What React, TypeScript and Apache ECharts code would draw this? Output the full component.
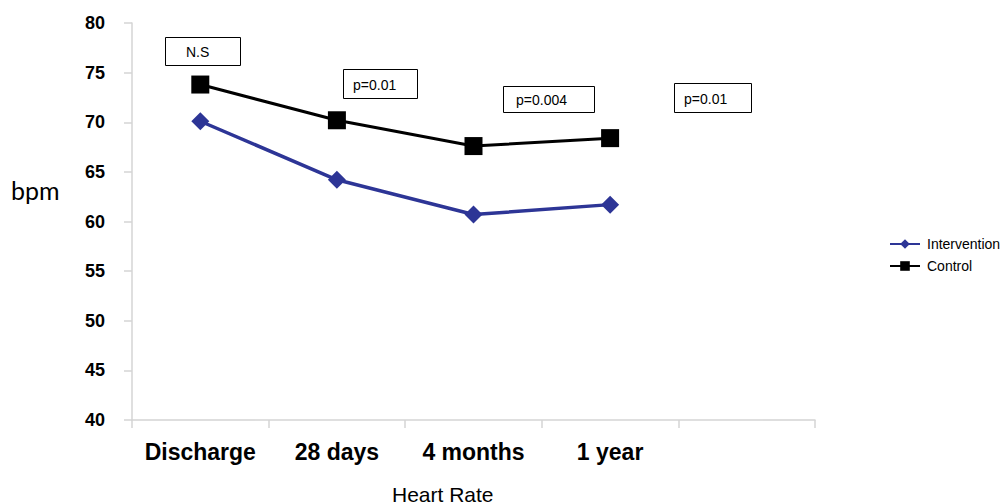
import React, { useEffect, useRef } from "react";
import * as echarts from "echarts";

const categories = ["Discharge", "28 days", "4 months", "1 year", ""];
const interventionValues = [70.1, 64.2, 60.7, 61.7];
const controlValues = [73.8, 70.2, 67.6, 68.4];
const yTicks = { min: 40, max: 80, interval: 5 };
const pLabels = ["N.S", "p=0.01", "p=0.004", "p=0.01"];

const FONT = "'Liberation Sans', Arial, Helvetica, sans-serif";

export default function App() {
  const ref = useRef<HTMLDivElement>(null);
  useEffect(() => {
    if (!ref.current) return;
    const chart = echarts.init(ref.current, undefined, { renderer: "svg" });
    const boxes = [
      { x: 165, y: 37, w: 75, h: 28, tx: 186 },
      { x: 343, y: 69, w: 74, h: 29, tx: 353 },
      { x: 503, y: 86, w: 91, h: 26, tx: 516 },
      { x: 674, y: 83, w: 77, h: 29, tx: 684 },
    ];
    const graphics: any[] = [];
    boxes.forEach((b, i) => {
      graphics.push({
        type: "rect",
        shape: { x: b.x + 0.5, y: b.y + 0.5, width: b.w, height: b.h },
        style: { fill: "#fff", stroke: "#000", lineWidth: 1 },
        z: 10,
      });
      graphics.push({
        type: "text",
        x: b.tx,
        y: b.y + b.h / 2 + 1,
        style: {
          text: pLabels[i],
          fill: "#000",
          font: `14px ${FONT}`,
          textVerticalAlign: "middle",
        },
        z: 11,
      });
    });
    graphics.push({
      type: "text",
      x: 11,
      y: 190,
      style: {
        text: "bpm",
        fill: "#000",
        font: "25px Lato, 'Noto Sans', sans-serif",
        textVerticalAlign: "middle",
      },
    });
    graphics.push({
      type: "text",
      x: 392,
      y: 494,
      style: {
        text: "Heart Rate",
        fill: "#000",
        font: `21px ${FONT}`,
        textVerticalAlign: "middle",
      },
    });

    chart.setOption({
      animation: false,
      backgroundColor: "#fff",
      grid: { left: 132, right: 188, top: 23, bottom: 84 },
      legend: {
        orient: "vertical",
        left: 884,
        top: 232,
        itemWidth: 30,
        itemHeight: 12,
        itemGap: 8,
        textStyle: { fontFamily: FONT, fontSize: 14, color: "#000", padding: [0, 0, 0, 2] },
        data: ["Intervention", "Control"],
      },
      xAxis: {
        type: "category",
        data: categories,
        boundaryGap: true,
        axisLine: { lineStyle: { color: "#d4d4d4", width: 1.5 } },
        axisTick: { show: true, length: 8, lineStyle: { color: "#d4d4d4", width: 1.5 } },
        axisLabel: {
          interval: 0,
          margin: 20,
          fontFamily: FONT,
          fontSize: 23,
          fontWeight: "bold",
          color: "#000",
        },
        splitLine: { show: false },
      },
      yAxis: {
        type: "value",
        min: yTicks.min,
        max: yTicks.max,
        interval: yTicks.interval,
        axisLine: { show: true, lineStyle: { color: "#d4d4d4", width: 1.5 } },
        axisTick: { show: true, length: 8, lineStyle: { color: "#d4d4d4", width: 1.5 } },
        axisLabel: {
          margin: 27,
          fontFamily: FONT,
          fontSize: 18,
          fontWeight: "bold",
          color: "#000",
        },
        splitLine: { show: false },
      },
      series: [
        {
          name: "Intervention",
          type: "line",
          data: interventionValues,
          symbol: "diamond",
          symbolSize: 18,
          color: "#2d3596",
          lineStyle: { color: "#2d3596", width: 3.5 },
          itemStyle: { color: "#2d3596" },
          z: 3,
        },
        {
          name: "Control",
          type: "line",
          data: controlValues,
          symbol: "rect",
          symbolSize: 18,
          color: "#000",
          lineStyle: { color: "#000", width: 3 },
          itemStyle: { color: "#000" },
          z: 4,
        },
      ],
      graphic: graphics,
    });
    return () => chart.dispose();
  }, []);
  return (
    <div
      ref={ref}
      style={{ position: "fixed", left: 0, top: 0, width: 1003, height: 504 }}
    />
  );
}
